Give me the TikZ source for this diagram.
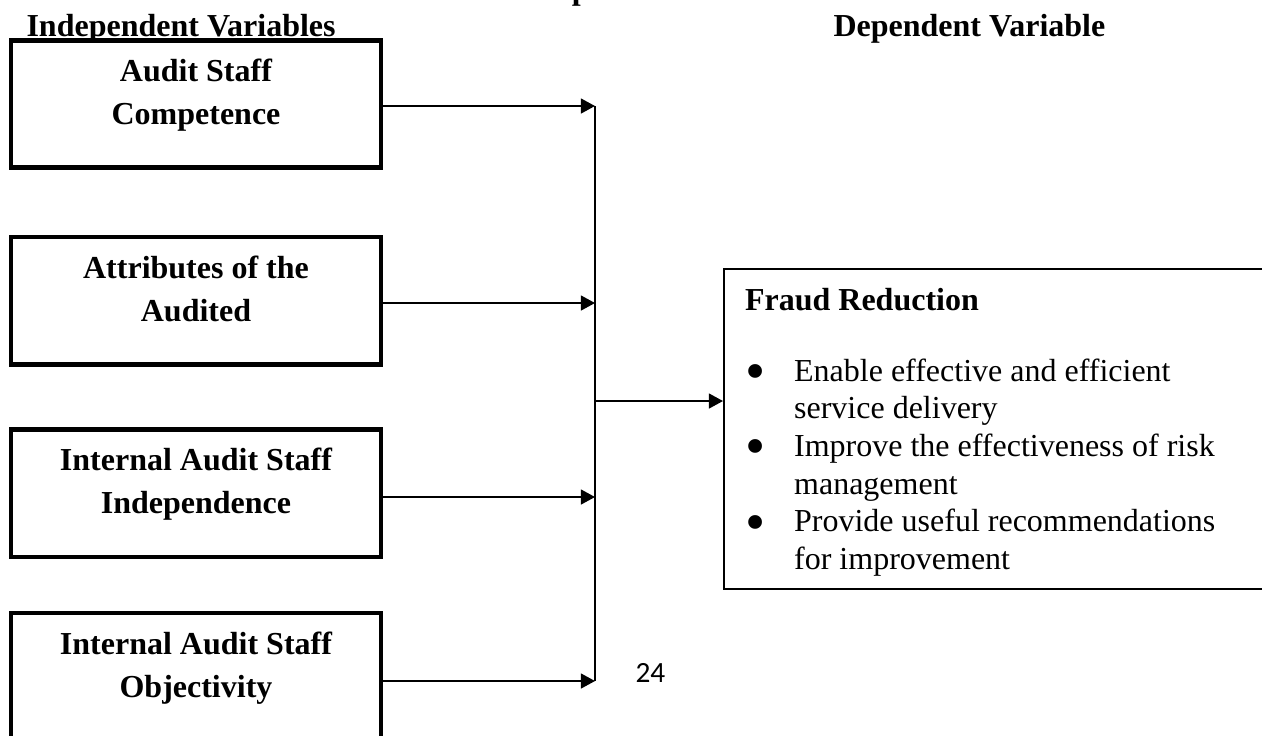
\documentclass[tikz,border=0pt]{standalone}
\usepackage{fontspec}
\usepackage{graphicx}
\setmainfont{Liberation Serif}
\newfontfamily\pagefont{Carlito}
\usetikzlibrary{arrows.meta,positioning}
\newcommand{\bigdot}{\raisebox{-3.4pt}{\scalebox{1.8}{\textbullet}}}

\begin{document}
\begin{tikzpicture}[
  x=0.375pt, y=-0.375pt,
  hdr/.style={anchor=base west, inner sep=0pt, font=\fontsize{12}{14.1}\selectfont\bfseries},
  varbox/.style={rectangle, draw=black, line width=1.7pt, minimum width=138.75pt, minimum height=47.8pt, inner sep=0pt, font=\fontsize{12}{16.1}\selectfont\bfseries},
  outbox/.style={rectangle, draw=black, line width=0.75pt, anchor=north west, inner xsep=7.9pt, inner ysep=5.5pt, font=\fontsize{12}{14.14}\selectfont},
  arr/.style={-{Triangle[length=5.3pt,width=5.6pt]}, line width=0.65pt, black},
  spine/.style={line width=0.75pt, black}
]
\useasboundingbox (0,0) rectangle (1262,735);
% headings
\node[hdr] (title) at (486,-1) {Conceptual Framework};
\node[hdr] (hdrind) at (26,36) {Independent Variables};
\node[hdr] (hdrdep) at (833,36) {Dependent Variable};
% independent variables
\node[varbox] (comp) at (196,104) {\begin{tabular}{@{}c@{}}Audit Staff\\Competence\\[7.2pt]\end{tabular}};
\node[varbox, below=24.2pt of comp] (attr) {\begin{tabular}{@{}c@{}}Attributes of the\\Audited\\[7.2pt]\end{tabular}};
\node[varbox, below=22.7pt of attr] (indep) {\begin{tabular}{@{}c@{}}Internal Audit Staff\\Independence\\[7.2pt]\end{tabular}};
\node[varbox, below=19.3pt of indep] (objec) {\begin{tabular}{@{}c@{}}Internal Audit Staff\\Objectivity\\[7.2pt]\end{tabular}};
% dependent variable
\node[outbox] (fraud) at (723,268) {\begin{tabular}[t]{@{}p{18.4pt}@{}p{200pt}@{}}
\multicolumn{2}{@{}l@{}}{\textbf{Fraud Reduction}}\\[12.5pt]
\bigdot & Enable effective and efficient\\
 & service delivery\\
\bigdot & Improve the effectiveness of risk\\
 & management\\
\bigdot & Provide useful recommendations\\
 & for improvement\\[-2.4pt]
\end{tabular}};
% joins on the spine
\coordinate (in1) at (595,106);
\coordinate (in2) at (595,303);
\coordinate (in3) at (595,497);
\coordinate (in4) at (595,681);
\coordinate (out) at (595,401);
\draw[arr] (comp.east |- in1) -- (in1);
\draw[arr] (attr.east |- in2) -- (in2);
\draw[arr] (indep.east |- in3) -- (in3);
\draw[arr] (objec.east |- in4) -- (in4);
\draw[spine] (in1) -- (in4);
\draw[arr] (out) -- (out -| fraud.west);
\node[anchor=base west, inner sep=0pt, font=\pagefont\fontsize{11}{13}\selectfont] (pgnum) at (635,682) {24};
\end{tikzpicture}
\end{document}
